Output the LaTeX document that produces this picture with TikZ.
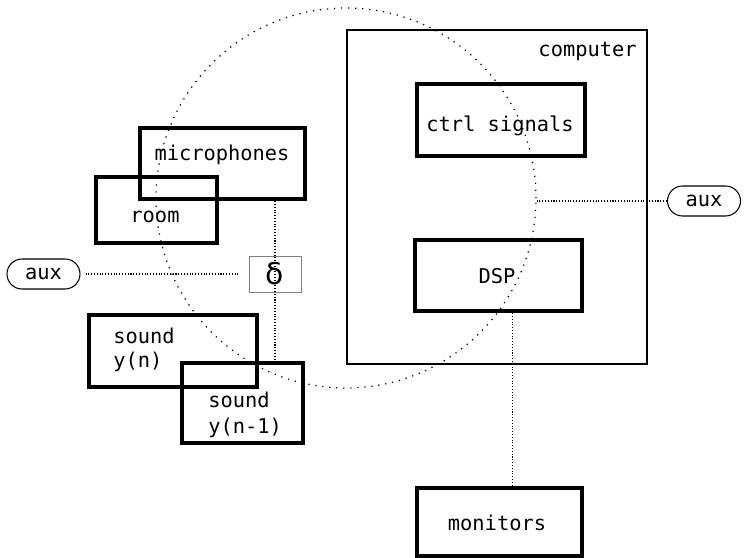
\documentclass[tikz,border=0pt]{standalone}
\usepackage{fontspec}
\setmainfont{DejaVu Sans}
\setmonofont{DejaVu Sans Mono}
\usetikzlibrary{calc,shapes.misc}

\begin{document}
\begin{tikzpicture}[x=0.02cm, y=-0.02cm,
  box/.style={draw, line width=2.4pt, inner sep=0pt},
  pill/.style={draw, line width=0.6pt, rounded rectangle, minimum width=1.46cm, minimum height=0.6cm, inner sep=0pt, font=\ttfamily\fontsize{11.6}{14}\selectfont},
  lbl/.style={anchor=base, inner sep=0pt, font=\ttfamily\fontsize{11.6}{14}\selectfont},
  link/.style={densely dotted, line width=0.6pt}]
  \useasboundingbox (0,0) rectangle (744,558);
  % the big dotted ring
  \node[circle, draw, minimum size=7.6cm, inner sep=0pt, line width=0.7pt, dash pattern=on 0.7pt off 3.3pt] (ring) at (346,198) {};
  % computer side
  \node[draw, line width=0.75pt, minimum width=6cm, minimum height=6.68cm] (comp) at (497,197) {};
  \node[lbl, anchor=base east] (compT) at (637,56) {computer};
  \node[box, minimum width=3.36cm, minimum height=1.44cm] (ctrl) at (501,120) {};
  \node[lbl] (ctrlT) at (500,131) {ctrl signals};
  \node[box, minimum width=3.34cm, minimum height=1.42cm] (dsp) at (498.5,275.5) {};
  \node[lbl] (dspT) at (497,283) {DSP};
  \node[box, minimum width=3.3cm, minimum height=1.36cm] (mon) at (499.5,522) {};
  \node[lbl] (monT) at (497,530) {monitors};
  \node[pill] (auxR) at (704,201) {aux};
  % room side
  \node[box, minimum width=3.3cm, minimum height=1.42cm] (mic) at (222.5,163.5) {};
  \node[lbl] (micT) at (222,160) {microphones};
  \node[box, minimum width=2.42cm, minimum height=1.32cm] (room) at (156.5,210) {};
  \node[lbl] (roomT) at (155,222) {room};
  \node[draw=gray, line width=0.5pt, minimum width=1.04cm, minimum height=0.72cm, inner sep=0pt, font=\fontsize{17}{20}\selectfont] (delta) at (275,274) {δ};
  \node[pill] (auxL) at (43.5,274) {aux};
  \node[box, minimum width=3.36cm, minimum height=1.44cm] (snd1) at (173,351) {};
  \node[lbl, anchor=base west] (snd1a) at (113,343) {sound};
  \node[lbl, anchor=base west] (snd1b) at (113,367) {y(n)};
  \node[box, minimum width=2.42cm, minimum height=1.6cm] (snd2) at (242.5,403) {};
  \node[lbl, anchor=base west] (snd2a) at (208,407) {sound};
  \node[lbl, anchor=base west] (snd2b) at (208,433) {y(n-1)};
  % dotted links
  \draw[link, shorten <=0.1cm, shorten >=0.22cm] (auxL.east) -- (delta.west);
  \draw[link] (delta |- mic.south) -- (delta |- snd2.north);
  \draw[link] (ring.east |- auxR.west) -- (auxR.west);
  \draw[link] ([xshift=0.28cm]dsp.south) -- ([xshift=0.28cm]dsp.south |- mon.north);
\end{tikzpicture}
\end{document}
